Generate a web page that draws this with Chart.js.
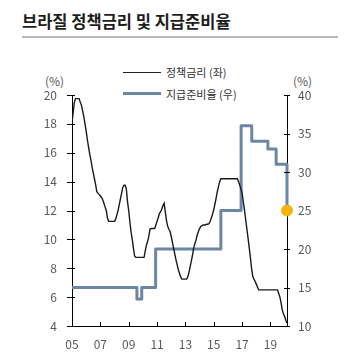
<!DOCTYPE html>
<html>
<head>
<meta charset="utf-8">
<script src="https://cdn.jsdelivr.net/npm/chart.js@4"></script>
<style>
  html, body { margin: 0; padding: 0; background: #fff; }
  #wrap { position: relative; width: 359px; height: 363px; font-family: "Noto Sans CJK KR", "Noto Sans", sans-serif; }
  #chart { position: absolute; left: 0; top: 0; }
  .title { position: absolute; left: 22px; top: 12px; font-size: 16.5px; font-weight: 700; color: #1e1e1e; line-height: 18px; white-space: nowrap; }
  .rule { position: absolute; left: 22px; top: 36px; width: 316px; height: 1.5px; background: #b8b8b8; }
  .leg-line { position: absolute; left: 123px; width: 38px; }
  .leg-text { position: absolute; left: 166px; font-size: 11px; color: #333; line-height: 14px; white-space: nowrap; }
  .unit { position: absolute; font-size: 12px; color: #595959; line-height: 14px; }
</style>
</head>
<body>
<div id="wrap">
  <div class="title">브라질 정책금리 및 지급준비율</div>
  <div class="rule"></div>
  <div class="leg-line" style="top:71.5px;height:1.5px;background:#222;"></div>
  <div class="leg-text" style="top:65px;">정책금리 (좌)</div>
  <div class="leg-line" style="top:92px;height:3px;background:#6c86a6;"></div>
  <div class="leg-text" style="top:86.5px;">지급준비율 (우)</div>
  <div class="unit" style="left:45px;top:73.5px;">(%)</div>
  <div class="unit" style="left:293px;top:73.5px;">(%)</div>
  <canvas id="chart" width="359" height="363"></canvas>
</div>
<script>
// 정책금리 월별 (2005.01 ~ 2020.03)
const rateStartYear = 2005;
const policyRate = [
  18.1, 18.8, 19.5, 19.75, 19.75, 19.75, 19.75, 19.5, 19.3, 18.9, 18.5, 18.0,
  17.5, 16.9, 16.4, 15.9, 15.5, 15.0, 14.6, 14.2, 13.8, 13.3, 13.2, 13.1,
  13.0, 12.9, 12.75, 12.5, 12.25, 12.0, 11.5, 11.25, 11.25, 11.25, 11.25, 11.25,
  11.25, 11.4, 11.7, 12.0, 12.4, 12.8, 13.2, 13.6, 13.75, 13.75, 13.5, 12.6,
  12.0, 11.2, 10.5, 10.0, 9.4, 8.85, 8.75, 8.75, 8.75, 8.75, 8.75, 8.75,
  8.75, 8.75, 9.2, 9.6, 9.85, 10.2, 10.7, 10.75, 10.75, 10.75, 10.75, 11.0,
  11.25, 11.5, 11.8, 11.9, 12.1, 12.35, 12.5, 11.9, 11.3, 10.9, 10.7, 10.55,
  10.2, 9.8, 9.4, 9.0, 8.6, 8.25, 7.9, 7.65, 7.4, 7.25, 7.25, 7.25,
  7.25, 7.25, 7.4, 7.7, 8.1, 8.5, 8.9, 9.4, 9.7, 9.95, 10.3, 10.55,
  10.75, 10.9, 10.95, 11.0, 11.0, 11.0, 11.05, 11.05, 11.1, 11.25, 11.5, 11.75,
  12.05, 12.45, 12.85, 13.3, 13.65, 14.0, 14.2, 14.2, 14.2, 14.2, 14.2, 14.2,
  14.2, 14.2, 14.2, 14.2, 14.2, 14.2, 14.2, 14.2, 14.2, 14.0, 13.75, 13.5,
  13.2, 12.6, 12.05, 11.4, 10.75, 10.1, 9.45, 8.75, 8.0, 7.45, 7.25, 7.1,
  6.9, 6.7, 6.5, 6.5, 6.5, 6.5, 6.5, 6.5, 6.5, 6.5, 6.5, 6.5,
  6.5, 6.5, 6.5, 6.5, 6.5, 6.5, 6.5, 6.25, 6.0, 5.6, 5.1, 4.85,
  4.65, 4.4, 4.2
];

// 지급준비율 변경 시점(연도)과 값
const reserveDates = [2005.0, 2009.58, 2009.92, 2010.9, 2015.5, 2016.93, 2017.68, 2018.82, 2019.4, 2020.167];
const reserveRatio = [15, 13.5, 15, 20, 25, 36, 34, 33, 31, 25];

// 마지막 지급준비율 강조 점
const markerDate = [2020.167];
const markerValue = [25];

const xTickYears = [2005, 2007, 2009, 2011, 2013, 2015, 2017, 2019];
const leftTicks = [4, 6, 8, 10, 12, 14, 16, 18, 20];
const rightTicks = [10, 15, 20, 25, 30, 35, 40];

const rateData = policyRate.map((v, i) => ({ x: rateStartYear + i / 12, y: v }));
const reserveData = reserveDates.map((d, i) => ({ x: d, y: reserveRatio[i] }));
const markerData = markerDate.map((d, i) => ({ x: d, y: markerValue[i] }));

const tickFont = { family: '"Noto Sans CJK KR", "Noto Sans", sans-serif', size: 12 };
const tickColor = '#595959';

// 축 위 눈금 표시 (안팎으로 걸치는 짧은 선)
const tickMarks = {
  id: 'tickMarks',
  afterDatasetsDraw(chart) {
    const { ctx, chartArea } = chart;
    const { left, right, bottom } = chartArea;
    ctx.save();
    ctx.strokeStyle = '#000';
    ctx.lineWidth = 1;
    ctx.beginPath();
    leftTicks.forEach(v => {
      const y = Math.round(chart.scales.y.getPixelForValue(v)) + 0.5;
      ctx.moveTo(left - 5, y);
      ctx.lineTo(left + 3, y);
    });
    rightTicks.forEach(v => {
      if (v === 25) return; // 점에 가려짐
      const y = Math.round(chart.scales.y1.getPixelForValue(v)) + 0.5;
      ctx.moveTo(right - 3, y);
      ctx.lineTo(right + 3, y);
    });
    xTickYears.slice(1).forEach(v => {
      const x = Math.round(chart.scales.x.getPixelForValue(v)) + 0.5;
      ctx.moveTo(x, bottom);
      ctx.lineTo(x, bottom - 4);
    });
    ctx.stroke();
    ctx.restore();
  }
};

new Chart(document.getElementById('chart'), {
  type: 'line',
  data: {
    datasets: [
      {
        data: markerData,
        yAxisID: 'y1',
        showLine: false,
        pointRadius: 5.5,
        pointBackgroundColor: '#f6b40f',
        pointBorderColor: '#f6b40f',
        pointBorderWidth: 1,
        clip: false,
        order: 0
      },
      {
        data: rateData,
        yAxisID: 'y',
        borderColor: '#1a1a1a',
        borderWidth: 1.4,
        pointRadius: 0,
        tension: 0,
        order: 1
      },
      {
        data: reserveData,
        yAxisID: 'y1',
        borderColor: '#6c86a6',
        borderWidth: 3,
        pointRadius: 0,
        stepped: 'before',
        borderJoinStyle: 'round',
        clip: false,
        order: 2
      }
    ]
  },
  options: {
    responsive: false,
    animation: false,
    layout: { padding: { left: 22, right: 32, top: 95, bottom: 7 } },
    plugins: { legend: { display: false }, tooltip: { enabled: false } },
    scales: {
      x: {
        type: 'linear',
        min: 2005,
        max: 2020.167,
        afterBuildTicks: s => { s.ticks = xTickYears.map(v => ({ value: v })); },
        afterFit: s => { s.height = 30; },
        grid: { display: false, drawTicks: false },
        border: { display: true, color: '#000', width: 1 },
        ticks: {
          autoSkip: false,
          maxRotation: 0,
          padding: 11,
          font: tickFont,
          color: tickColor,
          callback: v => String(v).slice(2)
        }
      },
      y: {
        position: 'left',
        min: 4,
        max: 20,
        afterBuildTicks: s => { s.ticks = leftTicks.map(v => ({ value: v })); },
        afterFit: s => { s.width = 50; },
        grid: { display: false, drawTicks: false },
        border: { display: true, color: '#000', width: 1 },
        ticks: { padding: 15, font: tickFont, color: tickColor }
      },
      y1: {
        position: 'right',
        min: 10,
        max: 40,
        afterBuildTicks: s => { s.ticks = rightTicks.map(v => ({ value: v })); },
        afterFit: s => { s.width = 40; },
        grid: { display: false, drawTicks: false },
        border: { display: true, color: '#000', width: 1 },
        ticks: { padding: 11, font: tickFont, color: tickColor }
      }
    }
  },
  plugins: [tickMarks]
});
</script>
</body>
</html>
